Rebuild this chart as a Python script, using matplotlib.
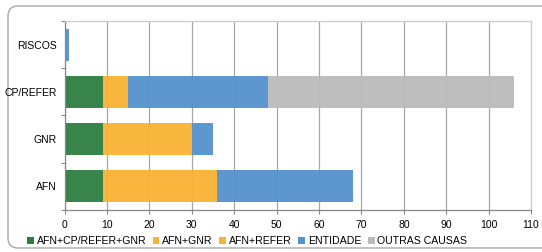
import matplotlib.pyplot as plt
from matplotlib.patches import FancyBboxPatch, Patch
from matplotlib.transforms import IdentityTransform

plt.rcParams['font.family'] = ['Liberation Sans', 'DejaVu Sans']

# categorias (de baixo para cima)
categorias = ['AFN', 'GNR', 'CP/REFER', 'RISCOS']

afn_cp_gnr = [9, 9, 9, 0]
afn_gnr = [27, 21, 0, 0]
afn_refer = [0, 0, 6, 0]
entidade = [32, 5, 33, 1]
outras = [0, 0, 58, 0]

series = [
    ('AFN+CP/REFER+GNR', afn_cp_gnr, '#2E7D40'),
    ('AFN+GNR', afn_gnr, '#F9B233'),
    ('AFN+REFER', afn_refer, '#F9B233'),
    ('ENTIDADE', entidade, '#5592CE'),
    ('OUTRAS CAUSAS', outras, '#BBBBBB'),
]

fig = plt.figure(figsize=(5.42, 2.52), dpi=100)
ax = fig.add_axes([0.1194, 0.1667, 0.9797 - 0.1194, 0.9167 - 0.1667])

# moldura arredondada
frame = FancyBboxPatch((8, 4), 600, 242, boxstyle='round,pad=0,rounding_size=10',
                       transform=IdentityTransform(), facecolor='white',
                       edgecolor='#A8A8A8', linewidth=1.0, zorder=-10)
fig.patches.append(frame)

y = list(range(len(categorias)))
left = [0] * len(categorias)
for nome, vals, cor in series:
    ax.barh(y, vals, left=left, height=0.68, color=cor, alpha=0.95, zorder=2, label=nome)
    left = [a + b for a, b in zip(left, vals)]

ax.set_xlim(0, 110)
ax.set_ylim(-0.5, 3.5)
ax.set_xticks(range(0, 111, 10))
ax.set_yticks(y)
ax.set_yticklabels(categorias)
ax.set_yticks([-0.5, 0.5, 1.5, 2.5, 3.5], minor=True)
ax.tick_params(axis='y', which='major', length=0, pad=6, labelsize=7.5)
ax.tick_params(axis='y', which='minor', length=3, color='#888888', width=0.8)
ax.tick_params(axis='x', length=3, color='#888888', width=0.8, labelsize=7.5, pad=4)

ax.grid(axis='x', color='#A8A8A8', linewidth=0.9, zorder=0)
ax.set_axisbelow(True)

ax.spines['left'].set_color('#888888')
ax.spines['bottom'].set_color('#888888')
ax.spines['top'].set_color('#CCCCCC')
ax.spines['right'].set_color('#CCCCCC')
for s in ax.spines.values():
    s.set_linewidth(0.9)

handles = [Patch(facecolor=c, label=n) for n, v, c in series]
fig.legend(handles=handles, loc='center', bbox_to_anchor=(0.456, 0.044), ncol=5,
           frameon=False, fontsize=7.6, handlelength=0.65, handleheight=0.65,
           handletextpad=0.28, columnspacing=0.6, borderaxespad=0)

fig.savefig('out.png', dpi=100)
